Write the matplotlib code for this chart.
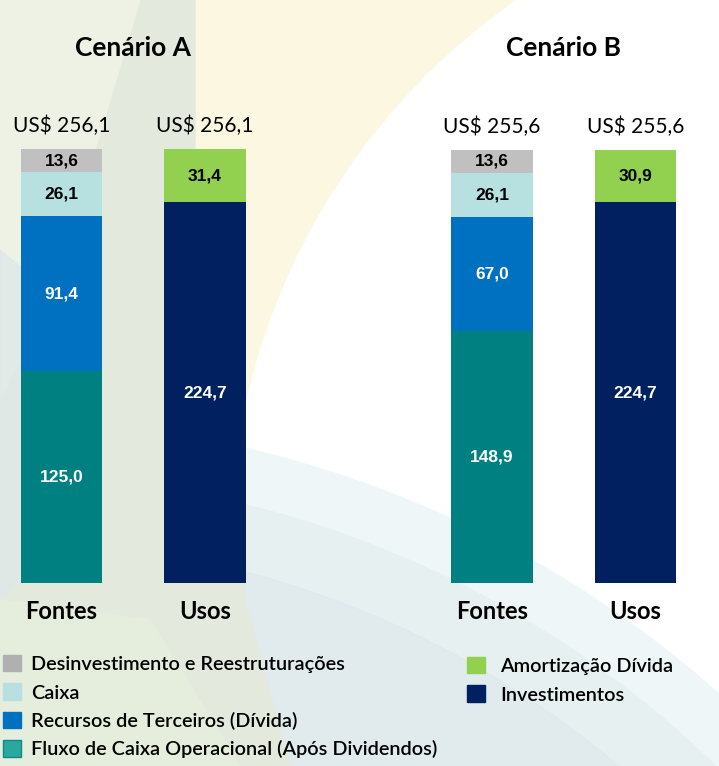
import matplotlib
matplotlib.use("Agg")
import matplotlib.pyplot as plt
from matplotlib.patches import Patch, Circle, Rectangle, Polygon

# ---------------- data ----------------
scenarios = ["Cenário A", "Cenário B"]
bar_names = ["Fontes", "Usos"]
totals_fontes = [256.1, 255.6]
totals_usos = [256.1, 255.6]

fontes_series = ["Fluxo de Caixa Operacional (Após Dividendos)",
                 "Recursos de Terceiros (Dívida)", "Caixa",
                 "Desinvestimento e Reestruturações"]
fluxo = [125.0, 148.9]
recursos = [91.4, 67.0]
caixa = [26.1, 26.1]
desinv = [13.6, 13.6]

usos_series = ["Investimentos", "Amortização Dívida"]
investimentos = [224.7, 224.7]
amortizacao = [31.4, 30.9]

fontes_colors = ["#008080", "#0070c0", "#b7e0e0", "#c0c0c0"]
fontes_text = ["white", "white", "black", "black"]
usos_colors = ["#002060", "#92d050"]
usos_text = ["white", "black"]

W, H = 719, 766
fig = plt.figure(figsize=(W / 100, H / 100), dpi=100)

# ---------------- decorative background ----------------
bg = fig.add_axes([0, 0, 1, 1], zorder=0)
bg.set_xlim(0, W)
bg.set_ylim(H, 0)
bg.axis("off")
bg.add_patch(Rectangle((0, 0), W, H, color="#fcf7e1"))
bg.add_patch(Circle((900, 550), 670, color="white"))
bg.add_patch(Circle((0, 1500), 1080, color="#eef6f7", alpha=0.95))
bg.add_patch(Circle((0, 1500), 1025, color="#e6f0f1", alpha=0.9))
bg.add_patch(Circle((0, 1500), 960, color="#dfe9ee", alpha=0.7))
bg.add_patch(Polygon([(0, 0), (195, 0), (195, 300), (235, 460), (245, 600), (290, 766), (0, 766)],
                     color="#e4e9dd"))
bg.add_patch(Polygon([(0, 0), (140, 0), (50, 300), (0, 400)], color="#edf2e4"))
bg.add_patch(Polygon([(0, 250), (60, 300), (40, 560), (0, 600)], color="#dfe8e9", alpha=0.8))
bg.add_patch(Polygon([(0, 600), (150, 620), (240, 766), (0, 766)], color="#e6eedd", alpha=0.9))

# ---------------- bars ----------------
ax = fig.add_axes([0, 183 / H, 1, 434 / H], zorder=2)
ax.patch.set_alpha(0)
ax.set_xlim(-0.4286, 4.582)
ax.set_ylim(0, 256.1)
for s in ax.spines.values():
    s.set_visible(False)
ax.set_yticks([])

pos_fontes = [0, 3]
pos_usos = [1, 4]
bw = 0.565
label_font = dict(family="Liberation Sans", weight="bold", fontsize=12.5)

fontes_vals = [fluxo, recursos, caixa, desinv]
for i in range(2):
    bottom = 0
    for k, vals in enumerate(fontes_vals):
        v = vals[i]
        ax.bar(pos_fontes[i], v, bw, bottom=bottom, color=fontes_colors[k], linewidth=0)
        ax.text(pos_fontes[i], bottom + v / 2, f"{v:.1f}".replace(".", ","),
                ha="center", va="center", color=fontes_text[k], **label_font)
        bottom += v
    bottom = 0
    for k, vals in enumerate([investimentos, amortizacao]):
        v = vals[i]
        ax.bar(pos_usos[i], v, bw, bottom=bottom, color=usos_colors[k], linewidth=0)
        ax.text(pos_usos[i], bottom + v / 2, f"{v:.1f}".replace(".", ","),
                ha="center", va="center", color=usos_text[k], **label_font)
        bottom += v
    for p, t in [(pos_fontes[i], totals_fontes[i]), (pos_usos[i], totals_usos[i])]:
        ax.annotate(f"US$ {t:.1f}".replace(".", ","), (p, t), xytext=(0, 9),
                    textcoords="offset points", ha="center", va="bottom",
                    family="Lato", fontsize=15, color="black")
    ax.annotate(scenarios[i], ((pos_fontes[i] + pos_usos[i]) / 2, 256.1),
                xytext=(0, 73), textcoords="offset points", ha="center", va="center",
                family="Lato", weight="bold", fontsize=19, color="black")

ax.set_xticks(pos_fontes + pos_usos)
ax.set_xticklabels([bar_names[0]] * 2 + [bar_names[1]] * 2,
                   family="Lato", weight="bold", fontsize=17)
ax.tick_params(axis="x", length=0, pad=12)

# ---------------- legends ----------------
left_colors = ["#b0b0b0", "#b8e0e0", "#0070c0", "#2aa8a0"]
left_labels = ["Desinvestimento e Reestruturações", "Caixa",
               "Recursos de Terceiros (Dívida)",
               "Fluxo de Caixa Operacional (Após Dividendos)"]
h1 = [Patch(facecolor=c, edgecolor=("#108a84" if i == 3 else c), linewidth=1)
      for i, c in enumerate(left_colors)]
legprop = dict(family="Lato", size=14.3, weight="semibold")
leg1 = fig.legend(h1, left_labels, loc="upper left", bbox_to_anchor=(3 / W, 1 - 655 / H),
                  frameon=False, prop=legprop,
                  handlelength=0.9, handleheight=0.9, handletextpad=0.5,
                  labelspacing=0.52, borderpad=0, borderaxespad=0)

h2 = [Patch(facecolor="#92d050", edgecolor="#92d050"),
      Patch(facecolor="#002060", edgecolor="#002060")]
leg2 = fig.legend(h2, ["Amortização Dívida", "Investimentos"], loc="upper left",
                  bbox_to_anchor=(467 / W, 1 - 657 / H), frameon=False,
                  prop=legprop,
                  handlelength=0.9, handleheight=0.9, handletextpad=0.75,
                  labelspacing=0.52, borderpad=0, borderaxespad=0)

fig.savefig("out.png", dpi=100)
